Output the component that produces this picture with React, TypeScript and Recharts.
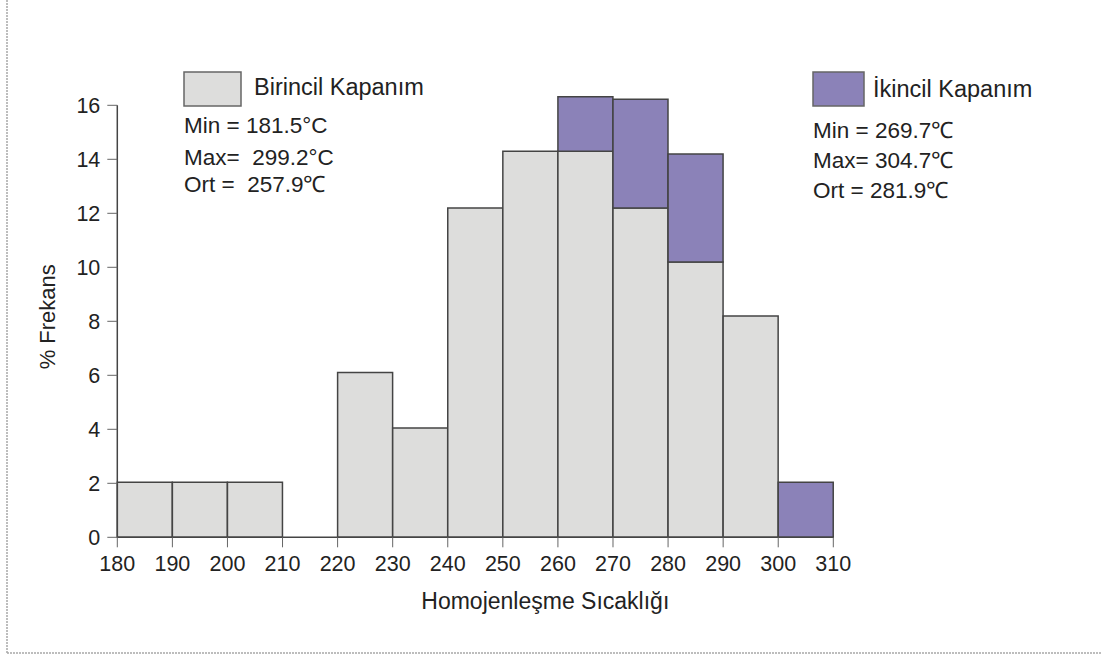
import React from "react";
import { BarChart, Bar, XAxis, YAxis, ReferenceLine, Label } from "recharts";

// Bin midpoints (°C), bins are 10 °C wide
const binCenters = [185, 195, 205, 215, 225, 235, 245, 255, 265, 275, 285, 295, 305];
// % frequency – primary inclusions (Birincil Kapanım)
const primaryValues = [2.04, 2.04, 2.04, 0, 6.1, 4.05, 12.2, 14.3, 14.3, 12.2, 10.2, 8.2, 0];
// % frequency – secondary inclusions (İkincil Kapanım), stacked on top
const secondaryValues = [0, 0, 0, 0, 0, 0, 0, 0, 2.02, 4.02, 4.0, 0, 2.04];

const xTicks = [180, 190, 200, 210, 220, 230, 240, 250, 260, 270, 280, 290, 300, 310];
const yTicks = [0, 2, 4, 6, 8, 10, 12, 14, 16];

const primaryStats = ["Min = 181.5°C", "Max=  299.2°C", "Ort =  257.9℃"];
const secondaryStats = ["Min = 269.7℃", "Max= 304.7℃", "Ort = 281.9℃"];

const data = binCenters.map((x, i) => ({
  x,
  birincil: primaryValues[i],
  ikincil: secondaryValues[i],
}));

const FONT = "'Liberation Sans', Arial, Helvetica, sans-serif";
const GRAY = "#dddddc";
const PURPLE = "#8b82b8";
const EDGE = "#444444";
const TEXT = "#222222";

export default function App() {
  return (
    <div
      style={{
        position: "absolute",
        left: 0,
        top: 0,
        width: 1102,
        height: 656,
        background: "#ffffff",
        fontFamily: FONT,
      }}
    >
      <BarChart
        width={1102}
        height={656}
        data={data}
        margin={{ top: 78.3, right: 268.7, bottom: 58.7, left: 57.3 }}
        barCategoryGap={0}
        barGap={0}
      >
        <XAxis
          dataKey="x"
          type="number"
          domain={[180, 310]}
          ticks={xTicks}
          interval={0}
          height={60}
          tickSize={10}
          tickMargin={8}
          axisLine={{ stroke: EDGE, strokeWidth: 1.5 }}
          tickLine={{ stroke: "#666", strokeWidth: 1 }}
          tick={{ fill: TEXT, fontSize: 21.5, fontFamily: FONT }}
        >
          <Label
            value="Homojenleşme Sıcaklığı"
            position="insideBottom"
            offset={0}
            dx={70}
            dy={12}
            style={{ fill: TEXT, fontSize: 23, fontFamily: FONT }}
          />
        </XAxis>
        <YAxis
          type="number"
          domain={[0, 17]}
          ticks={yTicks}
          interval={0}
          width={60}
          tickSize={10}
          tickMargin={7}
          axisLine={false}
          tickLine={{ stroke: "#666", strokeWidth: 1 }}
          tick={{ fill: TEXT, fontSize: 21.5, fontFamily: FONT }}
        >
          <Label
            value="% Frekans"
            angle={-90}
            position="center"
            dx={-40}
            dy={9}
            style={{ fill: TEXT, fontSize: 22, fontFamily: FONT, textAnchor: "middle" }}
          />
        </YAxis>
        <ReferenceLine
          segment={[
            { x: 180, y: 0 },
            { x: 180, y: 16 },
          ]}
          stroke={EDGE}
          strokeWidth={1.5}
        />
        <Bar
          dataKey="birincil"
          stackId="a"
          fill={GRAY}
          stroke={EDGE}
          strokeWidth={1.5}
          isAnimationActive={false}
        />
        <Bar
          dataKey="ikincil"
          stackId="a"
          fill={PURPLE}
          stroke={EDGE}
          strokeWidth={1.5}
          isAnimationActive={false}
        />
      </BarChart>

      <svg
        width={1102}
        height={656}
        style={{ position: "absolute", left: 0, top: 0, pointerEvents: "none" }}
      >
        {/* frame (left and bottom edges) */}
        <line x1={7} y1={0} x2={7} y2={653} stroke="#a8a8a8" strokeWidth={1.5} strokeDasharray="2 1" />
        <line x1={7} y1={653} x2={1102} y2={653} stroke="#a8a8a8" strokeWidth={1.5} strokeDasharray="2 1" />

        {/* primary legend */}
        <rect x={184} y={72} width={57} height={34} fill={GRAY} stroke="#666" strokeWidth={1.5} />
        <text x={254} y={95} fontSize={23.5} fontFamily={FONT} fill={TEXT}>
          Birincil Kapanım
        </text>
        {primaryStats.map((s, i) => (
          <text key={s} x={184} y={[133, 165, 192][i]} fontSize={22.5} fontFamily={FONT} fill={TEXT} xmlSpace="preserve">
            {s}
          </text>
        ))}

        {/* secondary legend */}
        <rect x={813} y={72} width={51} height={34} fill={PURPLE} stroke="#666" strokeWidth={1.5} />
        <text x={873} y={97} fontSize={23.5} fontFamily={FONT} fill={TEXT}>
          İkincil Kapanım
        </text>
        {secondaryStats.map((s, i) => (
          <text key={s} x={813} y={[138, 168, 198][i]} fontSize={22.5} fontFamily={FONT} fill={TEXT} xmlSpace="preserve">
            {s}
          </text>
        ))}
      </svg>
    </div>
  );
}
